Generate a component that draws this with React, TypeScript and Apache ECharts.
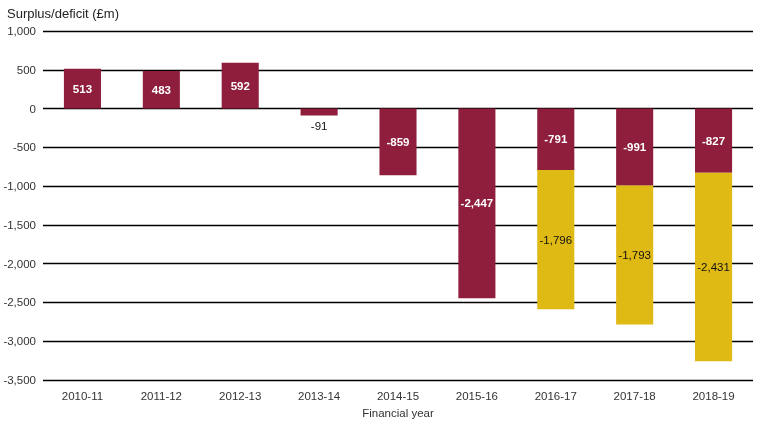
import React, { useEffect, useRef } from "react";
import * as echarts from "echarts";

const categories = ["2010-11", "2011-12", "2012-13", "2013-14", "2014-15", "2015-16", "2016-17", "2017-18", "2018-19"];
const seriesA = [513, 483, 592, -91, -859, -2447, -791, -991, -827];
const seriesB = [null, null, null, null, null, null, -1796, -1793, -2431];
const yTicks = { min: -3500, max: 1000, interval: 500 };

const MAROON = "#8E1E3C";
const YELLOW = "#DFB914";
const FONT = "Liberation Sans, Arial, sans-serif";

const fmt = (v: number) => {
  const s = Math.abs(v).toLocaleString("en-GB");
  return (v < 0 ? "-" : "") + s;
};

export default function App() {
  const ref = useRef<HTMLDivElement>(null);
  useEffect(() => {
    if (!ref.current) return;
    const chart = echarts.init(ref.current, undefined, { renderer: "svg" });
    chart.setOption({
      animation: false,
      textStyle: { fontFamily: FONT },
      title: {
        text: "Surplus/deficit (£m)",
        left: 2,
        top: 2,
        textStyle: { fontSize: 13, fontWeight: "normal", color: "#222", fontFamily: FONT },
      },
      grid: { left: 43, right: 4, top: 31, bottom: 39, containLabel: false },
      xAxis: {
        type: "category",
        data: categories,
        position: "bottom",
        axisLine: { show: false },
        axisTick: { show: false },
        axisLabel: { color: "#333", fontSize: 11.5, margin: 10, fontFamily: FONT },
        name: "Financial year",
        nameLocation: "middle",
        nameGap: 27,
        nameTextStyle: { color: "#333", fontSize: 11.5, fontFamily: FONT },
      },
      yAxis: {
        type: "value",
        min: yTicks.min,
        max: yTicks.max,
        interval: yTicks.interval,
        axisLine: { show: false },
        axisTick: { show: false },
        axisLabel: { color: "#333", fontSize: 11.5, margin: 7, formatter: (v: number) => fmt(v), fontFamily: FONT },
        splitLine: { lineStyle: { color: "#000", width: 1.3 } },
      },
      series: [
        {
          type: "bar",
          stack: "total",
          barWidth: "47%",
          data: seriesA.map((v) => ({
            value: v,
            label:
              Math.abs(v) < 200
                ? { show: true, position: "bottom", distance: 4, color: "#111", fontWeight: "normal" }
                : undefined,
          })),
          itemStyle: { color: MAROON },
          label: {
            show: true,
            position: "inside",
            color: "#fff",
            fontWeight: "bold",
            fontSize: 11.5,
            fontFamily: FONT,
            formatter: (p: any) => fmt(p.value),
          },
        },
        {
          type: "bar",
          stack: "total",
          barWidth: "47%",
          data: seriesB,
          itemStyle: { color: YELLOW },
          label: {
            show: true,
            position: "inside",
            color: "#111",
            fontSize: 11.5,
            fontFamily: FONT,
            formatter: (p: any) => (p.value == null ? "" : fmt(p.value)),
          },
        },
      ],
    });
    return () => chart.dispose();
  }, []);
  return <div ref={ref} style={{ position: "fixed", left: 0, top: 0, width: 757, height: 424 }} />;
}
